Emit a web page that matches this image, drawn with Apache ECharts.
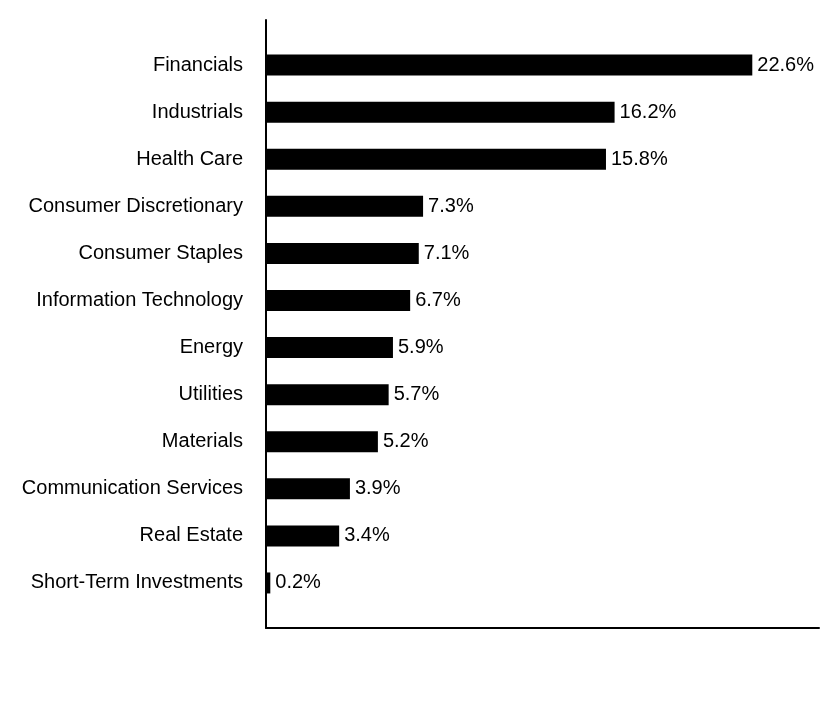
<!DOCTYPE html>
<html>
<head>
<meta charset="UTF-8">
<script src="https://cdn.jsdelivr.net/npm/echarts@6/dist/echarts.min.js"></script>
<style>body{margin:0}</style>
</head>
<body>
<div id="chart" style="width:840px;height:708px;"></div>
<script>
var sectors = ['Financials', 'Industrials', 'Health Care', 'Consumer Discretionary', 'Consumer Staples',
	'Information Technology', 'Energy', 'Utilities', 'Materials', 'Communication Services',
	'Real Estate', 'Short-Term Investments'];
var weights = [22.6, 16.2, 15.8, 7.3, 7.1, 6.7, 5.9, 5.7, 5.2, 3.9, 3.4, 0.2];
var axisMax = 25.7;

var font = 'Liberation Sans, Arial, sans-serif';
var chart = echarts.init(document.getElementById('chart'));
chart.setOption({
	backgroundColor: '#fff',
	animation: false,
	grid: [
		{ left: 266, right: 21, top: 41.5, bottom: 101.5 },
		{ left: 266, right: 21, top: 20, bottom: 80 }
	],
	xAxis: [
		{ type: 'value', gridIndex: 0, min: 0, max: axisMax, show: false },
		{ type: 'value', gridIndex: 1, min: 0, max: 1, axisLine: { show: true, lineStyle: { color: '#000', width: 2 } },
			axisTick: { show: false }, axisLabel: { show: false }, splitLine: { show: false } }
	],
	yAxis: [
		{ type: 'category', gridIndex: 0, data: sectors, inverse: true,
			axisLine: { show: false }, axisTick: { show: false },
			axisLabel: { color: '#000', fontSize: 20, fontFamily: font, margin: 23 } },
		{ type: 'value', gridIndex: 1, min: 0, max: 1, axisLine: { show: true, lineStyle: { color: '#000', width: 2 } },
			axisTick: { show: false }, axisLabel: { show: false }, splitLine: { show: false } }
	],
	series: [{
		type: 'bar',
		xAxisIndex: 0,
		yAxisIndex: 0,
		data: weights,
		barWidth: 21,
		itemStyle: { color: '#000' },
		label: {
			show: true, position: 'right', distance: 5, color: '#000', fontSize: 20, fontFamily: font,
			formatter: function (p) { return p.value.toFixed(1) + '%'; }
		}
	}]
});
</script>
</body>
</html>
